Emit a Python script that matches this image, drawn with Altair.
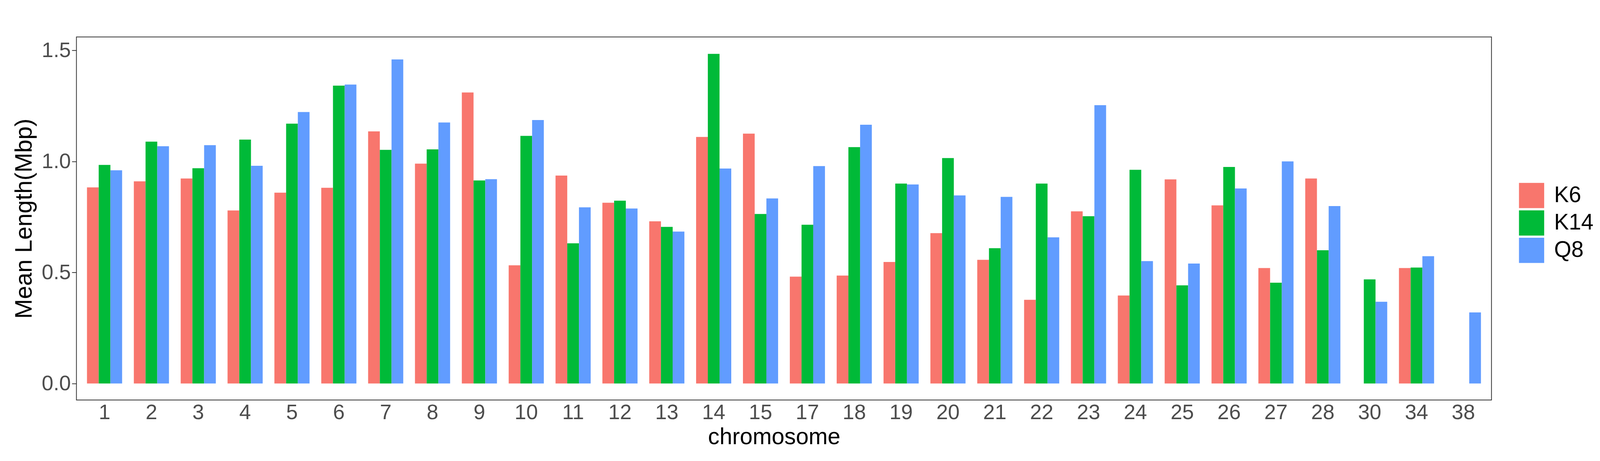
import altair as alt
import pandas as pd

chromosomes = ["1", "2", "3", "4", "5", "6", "7", "8", "9", "10", "11", "12", "13", "14", "15",
               "17", "18", "19", "20", "21", "22", "23", "24", "25", "26", "27", "28", "30", "34", "38"]
groups = ["K6", "K14", "Q8"]
colors = ["#F8766D", "#00BA38", "#619CFF"]

k6 = [0.883, 0.910, 0.923, 0.779, 0.859, 0.881, 1.135, 0.990, 1.310, 0.532,
      0.936, 0.814, 0.730, 1.110, 1.125, 0.481, 0.486, 0.547, 0.677, 0.557,
      0.377, 0.775, 0.396, 0.919, 0.802, 0.520, 0.923, 0.0, 0.520, 0.0]
k14 = [0.984, 1.089, 0.969, 1.098, 1.170, 1.341, 1.052, 1.054, 0.914, 1.115,
       0.631, 0.823, 0.705, 1.484, 0.763, 0.715, 1.064, 0.900, 1.015, 0.609,
       0.900, 0.753, 0.962, 0.442, 0.975, 0.454, 0.600, 0.469, 0.522, 0.0]
q8 = [0.960, 1.068, 1.073, 0.980, 1.222, 1.346, 1.459, 1.175, 0.920, 1.186,
      0.793, 0.788, 0.684, 0.968, 0.833, 0.979, 1.165, 0.896, 0.847, 0.840,
      0.658, 1.253, 0.551, 0.540, 0.878, 1.000, 0.799, 0.368, 0.573, 0.320]

rows = []
for g, vals in zip(groups, [k6, k14, q8]):
    for c, v in zip(chromosomes, vals):
        rows.append({"chromosome": c, "group": g, "value": v})
df = pd.DataFrame(rows)

chart = alt.Chart(df).mark_bar(strokeWidth=0).encode(
    x=alt.X("chromosome:N", sort=chromosomes,
            scale=alt.Scale(paddingInner=0.25, paddingOuter=0.225),
            axis=alt.Axis(title="chromosome", labelAngle=0, ticks=False, tickSize=0,
                          domain=False, grid=False, labelFontSize=55, labelColor="#4D4D4D",
                          labelBaseline="alphabetic", labelPadding=50, labelFlush=False,
                          labelOverlap=False,
                          titleFontSize=60, titleColor="#000000", titleFontWeight="normal",
                          titleX=1827, titleY=115, titleAlign="center",
                          titleBaseline="alphabetic")),
    xOffset=alt.XOffset("group:N", sort=groups,
                        scale=alt.Scale(paddingInner=0, paddingOuter=0)),
    y=alt.Y("value:Q",
            scale=alt.Scale(domain=[-0.0743, 1.5603], nice=False, zero=False),
            axis=alt.Axis(title="Mean Length(Mbp)", values=[0, 0.5, 1.0, 1.5], format=".1f",
                          domain=False, grid=False, ticks=True, tickSize=12, tickWidth=2,
                          tickColor="#333333", labelFontSize=55, labelColor="#4D4D4D",
                          labelPadding=3, labelBaseline="middle",
                          titleFontSize=62, titleColor="#000000", titleFontWeight="normal",
                          titleX=-118, titleY=475, titleAngle=270, titleAlign="center",
                          titleBaseline="alphabetic")),
    color=alt.Color("group:N", sort=groups,
                    scale=alt.Scale(domain=groups, range=colors),
                    legend=alt.Legend(title=None, orient="none", legendX=3778, legendY=382,
                                      symbolType="square", symbolSize=4356,
                                      symbolStrokeWidth=0, symbolOpacity=1,
                                      labelFontSize=58, labelColor="#000000",
                                      labelOffset=26, rowPadding=5.7, padding=0)),
).properties(
    width=3706,
    height=950,
    autosize=alt.AutoSizeParams(type="none"),
    padding={"left": 192, "top": 75, "right": 276, "bottom": 139},
).configure(
    font="Liberation Sans",
).configure_view(
    stroke="#333333",
    strokeWidth=2,
)

chart.save("out.html", embed_options={"renderer": "svg", "actions": False})
